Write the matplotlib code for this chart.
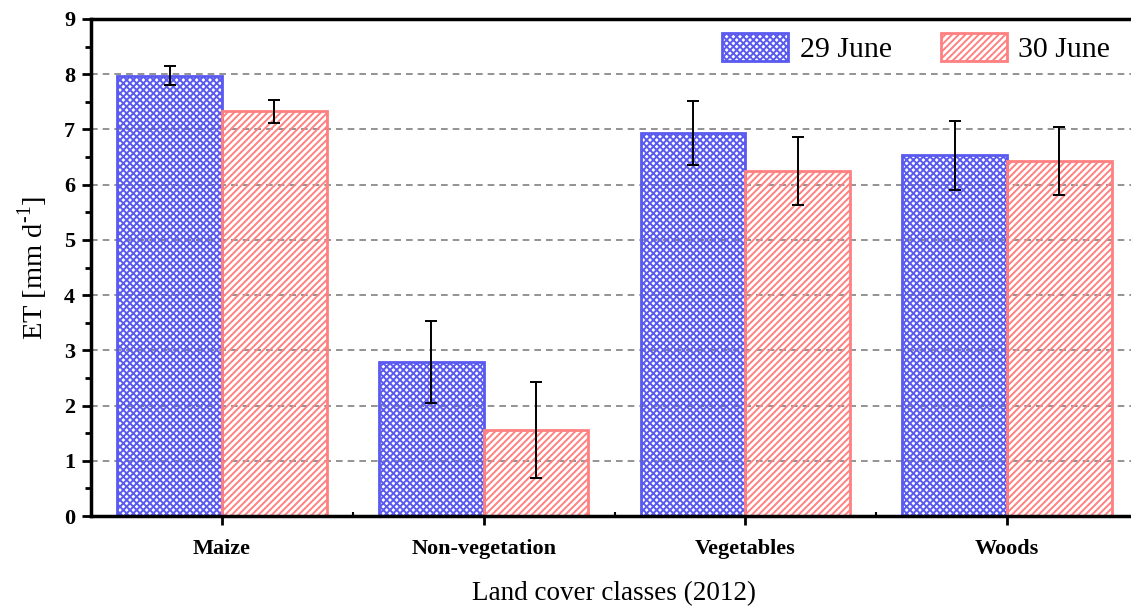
import matplotlib.pyplot as plt
import numpy as np

categories = ["Maize", "Non-vegetation", "Vegetables", "Woods"]
et_29 = [7.97, 2.79, 6.93, 6.53]
err_29 = [0.17, 0.74, 0.58, 0.62]
et_30 = [7.33, 1.56, 6.25, 6.43]
err_30 = [0.21, 0.87, 0.61, 0.62]
labels = ["29 June", "30 June"]

plt.rcParams['font.family'] = ['Liberation Serif', 'DejaVu Serif']
plt.rcParams['hatch.linewidth'] = 1.4
plt.rcParams['mathtext.fontset'] = 'custom'
plt.rcParams['mathtext.rm'] = 'Liberation Serif'

blue = '#5a5af0'
red = '#ff8080'

fig = plt.figure(figsize=(11.31, 6.12), dpi=100)
ax = fig.add_axes([91 / 1131, 96 / 612, 1047 / 1131, 497 / 612])

x = np.arange(len(categories))
w = 0.4
ax.bar(x - w / 2, et_29, w, facecolor='none', edgecolor=blue, hatch='xxxxx',
       linewidth=2, label=labels[0], zorder=2)
ax.bar(x + w / 2, et_30, w, facecolor='none', edgecolor=red, hatch='/////',
       linewidth=2, label=labels[1], zorder=2)
ax.errorbar(x - w / 2, et_29, yerr=err_29, fmt='none', ecolor='black',
            elinewidth=1.4, capsize=4.5, capthick=1.4, zorder=3)
ax.errorbar(x + w / 2, et_30, yerr=err_30, fmt='none', ecolor='black',
            elinewidth=1.4, capsize=4.5, capthick=1.4, zorder=3)

ax.set_xlim(-0.5, len(categories) - 0.5)
ax.set_ylim(0, 9)
ax.set_yticks(range(0, 10))
ax.set_yticks(np.arange(0.5, 9, 1), minor=True)
ax.set_xticks(x)
ax.set_xticklabels(categories, fontsize=16, fontweight='bold')
ax.set_xticks(np.arange(0.5, len(categories) - 0.5, 1), minor=True)
for t in ax.get_yticklabels():
    t.set_fontsize(16)
    t.set_fontweight('bold')

ax.tick_params(axis='both', which='major', direction='out', length=6.5, width=2)
ax.tick_params(axis='y', which='major', pad=5)
ax.tick_params(axis='y', which='minor', direction='out', length=4, width=2)
ax.tick_params(axis='x', which='minor', direction='in', length=3, width=1.5)
ax.tick_params(axis='x', which='major', pad=10)

ax.yaxis.grid(True, linestyle=(0, (4, 3)), color='#808080', linewidth=1.2, zorder=0)
ax.set_axisbelow(True)

for s in ax.spines.values():
    s.set_linewidth(2.5)

ax.set_ylabel(r'ET [mm d$^{\text{-1}}$]', fontsize=20.5, labelpad=10)
ax.set_xlabel('Land cover classes (2012)', fontsize=19.5, labelpad=16)

ax.legend(loc='upper right', bbox_to_anchor=(0.985, 0.995), borderaxespad=0,
          ncol=2, frameon=False, fontsize=21.5, handlelength=2.2,
          handleheight=1.05, columnspacing=1.65, handletextpad=0.4)

fig.savefig('out.png', dpi=100)
